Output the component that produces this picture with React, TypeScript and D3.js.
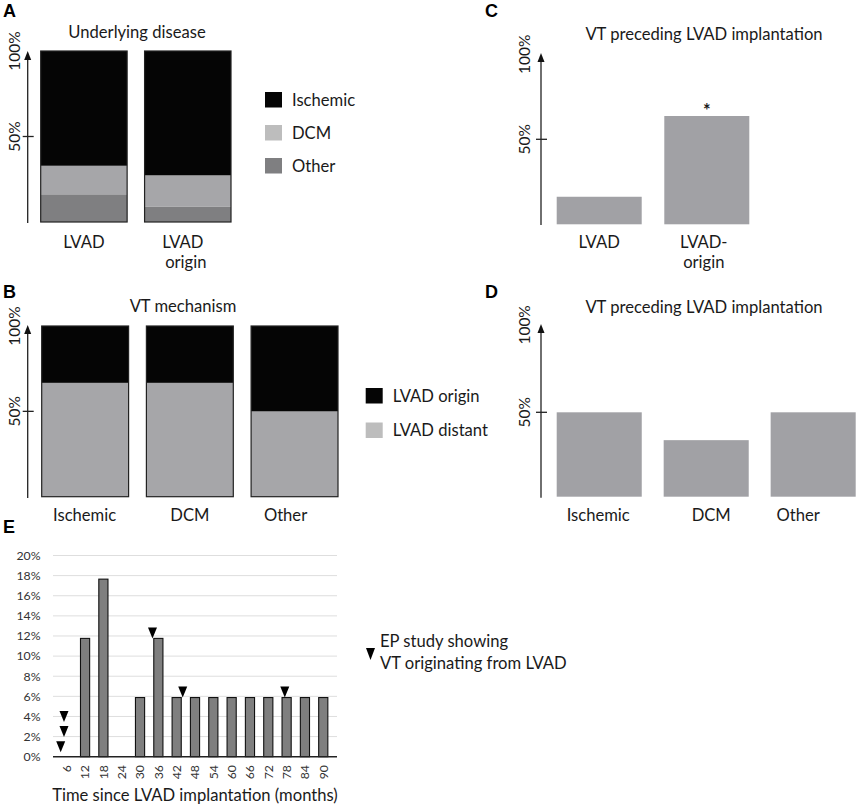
import React from "react";
import * as d3 from "d3";

// ---------- DATA ----------
// Panel A: underlying disease (% of patients)
const groupsA = ["LVAD", "LVAD origin"];
const diseaseOther = [16.2, 9.1];
const diseaseDCM = [16.7, 18.2];
const diseaseIschemic = [67.1, 72.7];
const diseaseKeys = ["Other", "DCM", "Ischemic"];

// Panel B: VT mechanism
const groupsB = ["Ischemic", "DCM", "Other"];
const mechDistant = [66.7, 66.7, 50];
const mechOrigin = [33.3, 33.3, 50];

// Panel C: VT preceding LVAD implantation
const groupsC = ["LVAD", "LVAD-origin"];
const precedingC = [16.2, 63.7];

// Panel D: VT preceding LVAD implantation by disease
const groupsD = ["Ischemic", "DCM", "Other"];
const precedingD = [50, 33.5, 50];

// Panel E: time since LVAD implantation
const months = [6, 12, 18, 24, 30, 36, 42, 48, 54, 60, 66, 72, 78, 84, 90];
const vtShare = [0, 11.76, 17.65, 0, 5.88, 11.76, 5.88, 5.88, 5.88, 5.88, 5.88, 5.88, 5.88, 5.88, 5.88];
const eTicks = [0, 2, 4, 6, 8, 10, 12, 14, 16, 18, 20];
// EP study markers (month, level in %)
const markerMonths = [6, 6, 6, 36, 42, 78];
const markerLevels = [0.45, 1.95, 3.45, 11.76, 5.88, 5.88];
const markerShift = [-0.33, -0.15, -0.15, -0.32, 0.33, -0.1];

const FONT = "Lato, 'Open Sans', sans-serif";
const FS = 16.6;
const TXT = "#1a1a1a";
const BLACK = "#050505";
const DCM_BAR = "#a6a6a9";
const DCM_LEG = "#bdbdbd";
const OTHER_COL = "#7f7f81";
const GRAY_BAR = "#a1a1a5";

function ArrowAxis({ x, yTop, yBottom, y50 }: { x: number; yTop: number; yBottom: number; y50: number }) {
  return (
    <g>
      <line x1={x} x2={x} y1={yTop + 6} y2={yBottom} stroke="#222" strokeWidth={1.3} />
      <path d={`M${x - 3.5},${yTop + 9} L${x},${yTop} L${x + 3.5},${yTop + 9} Z`} fill="#111" />
      <line x1={x - 5} x2={x + 6} y1={y50} y2={y50} stroke="#222" strokeWidth={1.3} />
    </g>
  );
}

function RotLabel({ x, y, text }: { x: number; y: number; text: string }) {
  return (
    <text
      transform={`translate(${x},${y}) rotate(-90)`}
      textAnchor="middle"
      fontFamily={FONT}
      fontSize={15.5}
      fill={TXT}
    >
      {text}
    </text>
  );
}

function PanelLetter({ x, y, t }: { x: number; y: number; t: string }) {
  return (
    <text x={x} y={y} fontFamily="'Liberation Sans', Arial, sans-serif" fontWeight="bold" fontSize={18} fill="#000">
      {t}
    </text>
  );
}

function PanelA() {
  const y = d3.scaleLinear().domain([0, 100]).range([222, 51]);
  const x = d3.scaleBand<string>().domain(groupsA).range([40.7, 231]).paddingInner(0.168).paddingOuter(0);
  const rows = groupsA.map((g, i) => ({ group: g, Other: diseaseOther[i], DCM: diseaseDCM[i], Ischemic: diseaseIschemic[i] }));
  const stack = d3.stack<any>().keys(diseaseKeys)(rows);
  const color: Record<string, string> = { Other: OTHER_COL, DCM: DCM_BAR, Ischemic: BLACK };
  const legColor: Record<string, string> = { Ischemic: BLACK, DCM: DCM_LEG, Other: OTHER_COL };
  const legendItems = ["Ischemic", "DCM", "Other"];
  return (
    <g>
      <PanelLetter x={3} y={17} t="A" />
      <text x={137} y={38} textAnchor="middle" fontFamily={FONT} fontSize={FS} fill={TXT}>Underlying disease</text>
      {stack.map((layer) =>
        layer.map((d, i) => (
          <rect
            key={layer.key + i}
            x={x(groupsA[i])!}
            width={x.bandwidth()}
            y={y(d[1])}
            height={y(d[0]) - y(d[1])}
            fill={color[layer.key]}
          />
        ))
      )}
      {groupsA.map((g) => (
        <rect key={g} x={x(g)!} y={y(100)} width={x.bandwidth()} height={y(0) - y(100)} fill="none" stroke="#222" strokeWidth={1.2} />
      ))}
      <ArrowAxis x={27.7} yTop={51} yBottom={223} y50={y(50)} />
      <RotLabel x={20} y={y(100)} text="100%" />
      <RotLabel x={20} y={y(50)} text="50%" />
      {legendItems.map((k, i) => (
        <g key={k} transform={`translate(265,${92 + i * 33})`}>
          <rect width={17} height={15.5} fill={legColor[k]} />
          <text x={27} y={13.5} fontFamily={FONT} fontSize={FS} fill={TXT}>{k}</text>
        </g>
      ))}
      <text x={x("LVAD")! + x.bandwidth() / 2} y={248} textAnchor="middle" fontFamily={FONT} fontSize={FS} fill={TXT}>LVAD</text>
      <text textAnchor="middle" fontFamily={FONT} fontSize={FS} fill={TXT}>
        <tspan x={x("LVAD origin")! + x.bandwidth() / 2 - 5} y={248}>LVAD</tspan>
        <tspan x={x("LVAD origin")! + x.bandwidth() / 2 - 2} y={268}>origin</tspan>
      </text>
    </g>
  );
}

function PanelB() {
  const y = d3.scaleLinear().domain([0, 100]).range([496.7, 326]);
  const x = d3.scaleBand<string>().domain(groupsB).range([41.7, 338]).paddingInner(0.17).paddingOuter(0);
  const rows = groupsB.map((g, i) => ({ group: g, distant: mechDistant[i], origin: mechOrigin[i] }));
  const stack = d3.stack<any>().keys(["distant", "origin"])(rows);
  const color: Record<string, string> = { distant: DCM_BAR, origin: BLACK };
  return (
    <g>
      <PanelLetter x={3} y={298} t="B" />
      <text x={183} y={312} textAnchor="middle" fontFamily={FONT} fontSize={FS} fill={TXT}>VT mechanism</text>
      {stack.map((layer) =>
        layer.map((d, i) => (
          <rect key={layer.key + i} x={x(groupsB[i])!} width={x.bandwidth()} y={y(d[1])} height={y(d[0]) - y(d[1])} fill={color[layer.key]} />
        ))
      )}
      {groupsB.map((g) => (
        <rect key={g} x={x(g)!} y={y(100)} width={x.bandwidth()} height={y(0) - y(100)} fill="none" stroke="#222" strokeWidth={1.2} />
      ))}
      <ArrowAxis x={27.7} yTop={325} yBottom={498} y50={y(50)} />
      <RotLabel x={20} y={y(100)} text="100%" />
      <RotLabel x={20} y={y(50)} text="50%" />
      <g transform="translate(365.7,388)">
        <rect width={17} height={15.5} fill={BLACK} />
        <text x={27} y={13.5} fontFamily={FONT} fontSize={FS} fill={TXT}>LVAD origin</text>
      </g>
      <g transform="translate(365.7,422.5)">
        <rect width={17} height={15.5} fill={DCM_LEG} />
        <text x={27} y={13.5} fontFamily={FONT} fontSize={FS} fill={TXT}>LVAD distant</text>
      </g>
      {groupsB.map((g, i) => (
        <text key={g} x={x(g)! + x.bandwidth() / 2 + [-0.5, 0, -9][i]} y={520.5} textAnchor="middle" fontFamily={FONT} fontSize={FS} fill={TXT}>{g}</text>
      ))}
    </g>
  );
}

function PanelC() {
  const y = d3.scaleLinear().domain([0, 100]).range([224.3, 54.3]);
  const x = d3.scaleBand<string>().domain(groupsC).range([556.7, 749.3]).paddingInner(0.21).paddingOuter(0);
  return (
    <g>
      <PanelLetter x={485} y={17} t="C" />
      <text x={704} y={40} textAnchor="middle" fontFamily={FONT} fontSize={FS} fill={TXT}>VT preceding LVAD implantation</text>
      {groupsC.map((g, i) => (
        <rect key={g} x={x(g)!} y={y(precedingC[i])} width={x.bandwidth()} height={y(0) - y(precedingC[i])} fill={GRAY_BAR} />
      ))}
      <text x={x("LVAD-origin")! + x.bandwidth() / 2} y={y(precedingC[1]) + 1} textAnchor="middle" fontFamily={FONT} fontWeight="bold" fontSize={18} fill={TXT}>*</text>
      <ArrowAxis x={541} yTop={53} yBottom={225} y50={y(50)} />
      <RotLabel x={530} y={y(100)} text="100%" />
      <RotLabel x={530} y={y(50)} text="50%" />
      <text x={x("LVAD")! + x.bandwidth() / 2} y={248} textAnchor="middle" fontFamily={FONT} fontSize={FS} fill={TXT}>LVAD</text>
      <text textAnchor="middle" fontFamily={FONT} fontSize={FS} fill={TXT}>
        <tspan x={x("LVAD-origin")! + x.bandwidth() / 2 - 3} y={248}>LVAD-</tspan>
        <tspan x={x("LVAD-origin")! + x.bandwidth() / 2 - 3} y={268}>origin</tspan>
      </text>
    </g>
  );
}

function PanelD() {
  const y = d3.scaleLinear().domain([0, 100]).range([496.7, 327.9]);
  const x = d3.scaleBand<string>().domain(groupsD).range([556.7, 855.7]).paddingInner(0.205).paddingOuter(0);
  return (
    <g>
      <PanelLetter x={485} y={298} t="D" />
      <text x={704} y={313} textAnchor="middle" fontFamily={FONT} fontSize={FS} fill={TXT}>VT preceding LVAD implantation</text>
      {groupsD.map((g, i) => (
        <rect key={g} x={x(g)!} y={y(precedingD[i])} width={x.bandwidth()} height={y(0) - y(precedingD[i])} fill={GRAY_BAR} />
      ))}
      <ArrowAxis x={541} yTop={324} yBottom={497.7} y50={y(50)} />
      <RotLabel x={530} y={y(100) - 3} text="100%" />
      <RotLabel x={530} y={y(50)} text="50%" />
      {groupsD.map((g, i) => (
        <text key={g} x={x(g)! + x.bandwidth() / 2 + [-1, 5, -15][i]} y={520.5} textAnchor="middle" fontFamily={FONT} fontSize={FS} fill={TXT}>{g}</text>
      ))}
    </g>
  );
}

function Tri({ cx, tipY, w = 9, h = 11 }: { cx: number; tipY: number; w?: number; h?: number }) {
  return <path d={`M${cx - w / 2},${tipY - h} L${cx + w / 2},${tipY - h} L${cx},${tipY} Z`} fill="#000" />;
}

function PanelE() {
  const y = d3.scaleLinear().domain([0, 20]).range([756.7, 555.5]);
  const x = d3.scaleBand<number>().domain(months).range([53, 337]).padding(0.5);
  const step = x.step();
  return (
    <g>
      <PanelLetter x={3} y={533} t="E" />
      {eTicks.filter((t) => t > 0).map((t) => (
        <line key={t} x1={53} x2={337} y1={y(t)} y2={y(t)} stroke="#dedede" strokeWidth={1} />
      ))}
      {eTicks.map((t) => (
        <text key={t} x={40.5} y={y(t)} dy="0.35em" textAnchor="end" fontFamily={FONT} fontSize={12.3} fill="#333">{t}%</text>
      ))}
      {months.map((m, i) =>
        vtShare[i] > 0 ? (
          <rect key={m} x={x(m)!} y={y(vtShare[i])} width={x.bandwidth()} height={y(0) - y(vtShare[i])} fill="#7f7f7f" stroke="#111" strokeWidth={1.1} />
        ) : null
      )}
      <line x1={53} x2={337} y1={y(0)} y2={y(0)} stroke="#222" strokeWidth={1.4} />
      {months.map((m) => (
        <text
          key={m}
          transform={`translate(${x(m)! + x.bandwidth() / 2},765) rotate(-90)`}
          textAnchor="end"
          dy="0.35em"
          fontFamily={FONT}
          fontSize={12.3}
          fill="#333"
        >
          {m}
        </text>
      ))}
      <text x={195} y={800.5} textAnchor="middle" fontFamily={FONT} fontSize={FS} fill={TXT}>Time since LVAD implantation (months)</text>
      {markerMonths.map((m, i) => (
        <Tri key={i} cx={x(m)! + x.bandwidth() / 2 + markerShift[i] * step} tipY={y(markerLevels[i])} />
      ))}
      <Tri cx={370.5} tipY={660} w={9} h={12} />
      <text fontFamily={FONT} fontSize={FS} fill={TXT}>
        <tspan x={380} y={647}>EP study showing</tspan>
        <tspan x={380} y={668.5}>VT originating from LVAD</tspan>
      </text>
    </g>
  );
}

export default function App() {
  return (
    <svg
      width={858}
      height={807}
      viewBox="0 0 858 807"
      style={{ position: "absolute", left: 0, top: 0, background: "#fff" }}
    >
      <rect width={858} height={807} fill="#fff" />
      <PanelA />
      <PanelB />
      <PanelC />
      <PanelD />
      <PanelE />
    </svg>
  );
}
